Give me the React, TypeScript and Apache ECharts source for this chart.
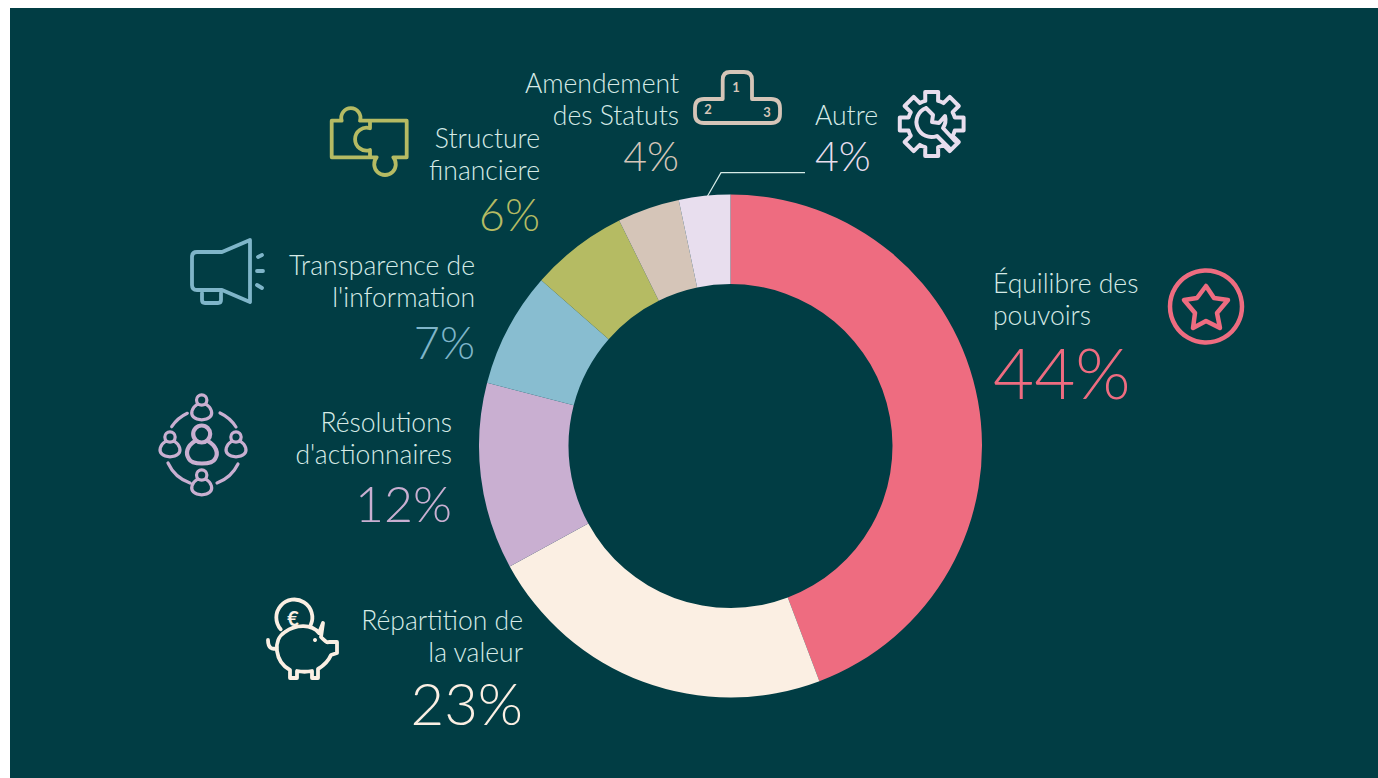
import React, { useEffect, useRef } from "react";
import * as echarts from "echarts";

const names = [
  "Équilibre des\npouvoirs",
  "Répartition de\nla valeur",
  "Résolutions\nd'actionnaires",
  "Transparence de\nl'information",
  "Structure\nfinanciere",
  "Amendement\ndes Statuts",
  "Autre",
];
const sliceValues = [44.25, 22.8, 12, 7.4, 6.25, 4, 3.3];
const percentLabels = ["44%", "23%", "12%", "7%", "6%", "4%", "4%"];
const sliceColors = ["#EE6C80", "#FBEFE3", "#C9AFD1", "#88BDD0", "#B5BB63", "#D5C5B8", "#E8DEEE"];
const percentColors = ["#EE6C80", "#FBEFE3", "#C9AFD1", "#7FB5C9", "#B5BB63", "#D5C5B8", "#E8DEEE"];

const PANEL = "#013D44";
const FONT = "Lato";
const NAME_COLOR = "#D6EBE7";
const NAME_SIZE = 26.5;

// x anchor, first name-line baseline, percent baseline, percent size, alignment
const placement = [
  { x: 993, nameY: 293, pctY: 400, pctSize: 71, align: "left" },
  { x: 523, nameY: 630, pctY: 726, pctSize: 58, align: "right" },
  { x: 452, nameY: 432, pctY: 523, pctSize: 50, align: "right" },
  { x: 475, nameY: 275, pctY: 360, pctSize: 45, align: "right" },
  { x: 540, nameY: 148, pctY: 232, pctSize: 45, align: "right" },
  { x: 679, nameY: 93, pctY: 172, pctSize: 41, align: "right" },
  { x: 815, nameY: 125, pctY: 172, pctSize: 41, align: "left" },
];

const gearPath = (() => {
  const cx = 931.7, cy = 124, n = 8;
  const rOut = 32.5, rIn = 24, half = 0.2, halfIn = 0.27;
  let d = "";
  for (let i = 0; i < n; i++) {
    const a = (i * 2 * Math.PI) / n - Math.PI / 2;
    const p = (r: number, t: number) => `${(cx + r * Math.cos(t)).toFixed(1)} ${(cy + r * Math.sin(t)).toFixed(1)}`;
    d += `${i === 0 ? "M" : "L"}${p(rIn, a - halfIn)} L${p(rOut, a - half)} L${p(rOut, a + half)} L${p(rIn, a + halfIn)} `;
    const next = a + (2 * Math.PI) / n;
    d += `A${rIn} ${rIn} 0 0 1 ${p(rIn, next - halfIn)} `;
  }
  return d + "Z";
})();

const smallPerson = (cx: number, cy: number, s: number) =>
  `M${cx + 4.5 * s} ${cy - 7 * s} A${4.5 * s} ${4.5 * s} 0 1 1 ${cx - 4.5 * s} ${cy - 7 * s} A${4.5 * s} ${4.5 * s} 0 1 1 ${cx + 4.5 * s} ${cy - 7 * s} Z ` +
  `M${cx - 3.5 * s} ${cy - 3.5 * s} C${cx - 9 * s} ${cy} ${cx - 10 * s} ${cy + 5 * s} ${cx - 7 * s} ${cy + 8 * s} C${cx - 4 * s} ${cy + 11 * s} ${cx + 4 * s} ${cy + 11 * s} ${cx + 7 * s} ${cy + 8 * s} C${cx + 10 * s} ${cy + 5 * s} ${cx + 9 * s} ${cy} ${cx + 3.5 * s} ${cy - 3.5 * s} `;

const icons: Record<string, string> = {
  iconStar:
    "M1206 286 L1214 298 L1228 300 L1217 313 L1220 328 L1206 321 L1193 328 L1195 313 L1184 300 L1197 298 Z",
  iconMegaphone:
    "M250 240 L222 252 H197 Q192 252 192 257 V285 Q192 290 197 290 H222 L250 302 Z M202 293 V300 Q202 303 205 303 H218 Q221 303 221 300 V293 M258 257 L262 255 M257 271 H263 M257 285 L262 288",
  iconPuzzle:
    "M331.7 120.7 H341.7 A9.6 9.6 0 1 1 360 120.7 H406.7 V157.3 H393.3 A10.8 10.8 0 1 1 376.7 157.3 H331.7 Z M370 120.7 V128.3 A11.4 11.4 0 1 0 370 150 V157.3",
  iconPodium:
    "M722.7 99 V80 Q722.7 72 730 72 H744 Q752 72 752 80 V99 H771 Q780 99 780 108 V114 Q780 123 771 123 H704 Q695 123 695 114 V108 Q695 99 704 99 Z",
  iconGear:
    gearPath +
    " M926 108 L933 115 L932 122 L939 123 L945 116 A15 15 0 0 1 943 128 L955 141 M926 108 A15 15 0 0 0 937 136 L949 148",
  iconPeople:
    smallPerson(201.7, 408, 1.15) + smallPerson(170, 445, 1.15) + smallPerson(236, 445, 1.15) + smallPerson(201.7, 483, 1.15) +
    "M171.7 426.7 A38 38 0 0 1 187.3 413.3 M220 413 A38 38 0 0 1 236 427 M168 463 A38 38 0 0 0 190 483 M217 483 A38 38 0 0 0 238 464",
  iconPersonMain:
    "M210.2 434 A8.5 8.5 0 1 1 193.2 434 A8.5 8.5 0 1 1 210.2 434 Z M195 441 C187 446 185 453 189 459 C192 465 212 465 215 459 C219 453 216 446 208 441",
  iconPig:
    "M280.7 629.3 A18 18 0 1 1 310.7 625 M290 670 C275 662 272 640 285 632 C296 624 312 624 319 633 L323 623 L321 637 C325 641 327 643 329 642 L337 642 V653 L331 655 C328 662 323 666 318 669 V678 H312 V671 C307 672 302 672 297 671 V678 H290 Z M268 640 C268 648 272 650 277 648",
};
Object.keys(icons).forEach((k) => {
  echarts.graphic.registerShape(k, echarts.graphic.extendPath(icons[k], {}) as any);
});

const iconStyle = (stroke: string, lineWidth: number) => ({
  fill: "none",
  stroke,
  lineWidth,
  lineCap: "round",
  lineJoin: "round",
});

export default function App() {
  const ref = useRef<HTMLDivElement>(null);
  useEffect(() => {
    document.body.style.margin = "0";
    document.body.style.background = "#fff";
    const chart = echarts.init(ref.current!, undefined, { renderer: "svg" });
    const texts: any[] = [];
    names.forEach((n, i) => {
      const p = placement[i];
      const lines = n.split("\n").length;
      texts.push({
        type: "text",
        x: p.x,
        y: p.nameY - 10 + ((lines - 1) * 32) / 2,
        silent: true,
        style: {
          text: n,
          fill: NAME_COLOR,
          fontFamily: FONT,
          fontWeight: 300,
          fontSize: NAME_SIZE,
          lineHeight: 32,
          align: p.align,
          verticalAlign: "middle",
        },
      });
      texts.push({
        type: "text",
        x: p.x,
        y: p.pctY - p.pctSize * 0.4,
        silent: true,
        style: {
          text: percentLabels[i],
          fill: percentColors[i],
          fontFamily: FONT,
          fontWeight: 300,
          fontSize: p.pctSize,
          align: p.align,
          verticalAlign: "middle",
        },
      });
    });
    chart.setOption({
      animation: false,
      backgroundColor: "transparent",
      series: [
        {
          type: "pie",
          center: [730.5, 446],
          radius: [162, 251.5],
          startAngle: 90,
          clockwise: true,
          silent: true,
          label: { show: false },
          labelLine: { show: false },
          data: sliceValues.map((v, i) => ({
            value: v,
            name: names[i].replace("\n", " "),
            itemStyle: { color: sliceColors[i] },
          })),
        },
      ],
      graphic: [
        ...texts,
        {
          type: "polyline",
          silent: true,
          shape: { points: [[707, 197], [721, 172.7], [805, 172.7]] },
          style: { fill: "none", stroke: "#D6EBE7", lineWidth: 1.2 },
        },
        { type: "circle", silent: true, shape: { cx: 1206, cy: 306.5, r: 36 }, style: iconStyle("#EE6C80", 4.5) },
        { type: "iconStar", silent: true, style: iconStyle("#EE6C80", 4.5) },
        { type: "iconMegaphone", silent: true, style: iconStyle("#7FB5C9", 3.8) },
        { type: "iconPuzzle", silent: true, style: iconStyle("#B5BB63", 3.8) },
        { type: "iconPodium", silent: true, style: iconStyle("#D5C5B8", 3.8) },
        { type: "iconGear", silent: true, style: iconStyle("#E8DEEE", 4) },
        { type: "iconPeople", silent: true, style: iconStyle("#C9AFD1", 3.2) },
        { type: "iconPersonMain", silent: true, style: iconStyle("#C9AFD1", 4.2) },
        { type: "iconPig", silent: true, style: iconStyle("#FBEFE3", 3.8) },
        { type: "circle", silent: true, shape: { cx: 315, cy: 640, r: 2 }, style: { fill: "#FBEFE3" } },
        { type: "text", silent: true, x: 293, y: 618, style: { text: "€", fill: "#FBEFE3", fontFamily: FONT, fontWeight: 700, fontSize: 20, align: "center", verticalAlign: "middle" } },
        { type: "text", silent: true, x: 736, y: 87, style: { text: "1", fill: "#D5C5B8", fontFamily: FONT, fontWeight: 700, fontSize: 13, align: "center", verticalAlign: "middle" } },
        { type: "text", silent: true, x: 708, y: 109, style: { text: "2", fill: "#D5C5B8", fontFamily: FONT, fontWeight: 700, fontSize: 13, align: "center", verticalAlign: "middle" } },
        { type: "text", silent: true, x: 767, y: 112, style: { text: "3", fill: "#D5C5B8", fontFamily: FONT, fontWeight: 700, fontSize: 13, align: "center", verticalAlign: "middle" } },
      ],
    });
    return () => chart.dispose();
  }, []);
  return (
    <>
      <div style={{ position: "fixed", left: 10, top: 8, right: 0, bottom: 0, background: PANEL }} />
      <div ref={ref} style={{ position: "fixed", left: 0, top: 0, width: 1378, height: 778 }} />
    </>
  );
}
